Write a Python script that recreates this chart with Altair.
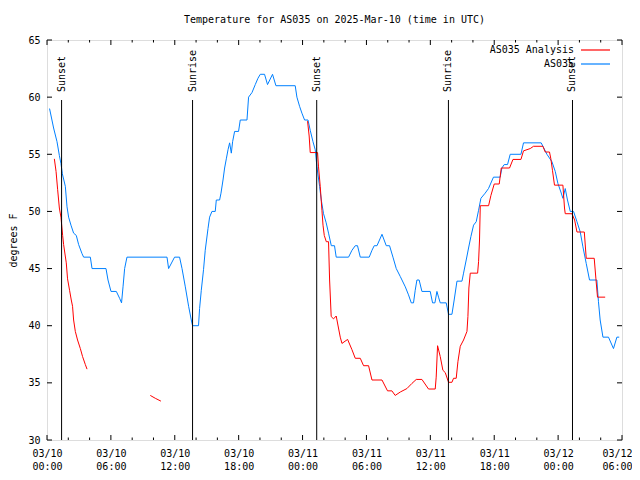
import altair as alt
import pandas as pd

FONT = "DejaVu Sans Mono"

series_names = ["AS035 Analysis", "AS035"]
series_colors = ["#ff0000", "#0080ff"]

# hours after 2025-03-10 00:00 UTC, temperature in F
obs_hours = [0.24, 0.62, 0.94, 1.16, 1.31, 1.44, 1.72, 1.88, 2.03, 2.25, 2.50, 2.75, 2.97, 3.29, 3.44,
             4.07, 4.23, 5.54, 5.73, 6.01, 6.51, 6.82, 7.00, 7.14, 7.29, 7.51, 11.27, 11.42, 11.98,
             12.45, 12.68, 12.99, 13.30, 13.55, 13.67, 14.23, 14.33, 14.49, 14.70, 14.86, 15.12,
             15.27, 15.49, 15.80, 15.90, 16.21, 16.34, 16.53, 16.68, 16.84, 17.00, 17.15, 17.31,
             17.43, 17.62, 17.99, 18.15, 18.78, 18.93, 19.25, 19.56, 19.81, 20.03, 20.43, 20.71,
             21.18, 21.50, 23.31, 23.47, 23.72, 23.94, 24.19, 24.51, 24.72, 24.98, 25.19, 25.35,
             25.60, 25.76, 25.97, 26.22, 26.44, 26.70, 27.00, 27.16, 28.32, 28.64, 28.95, 29.16,
             29.42, 30.26, 30.52, 30.73, 30.99, 31.46, 31.86, 32.17, 32.49, 32.80, 33.18, 33.65,
             33.95, 34.21, 34.42, 34.58, 34.74, 34.95, 35.21, 35.99, 36.21, 36.43, 36.62, 36.77,
             36.93, 37.49, 37.71, 38.03, 38.24, 38.50, 38.97, 39.12, 39.37, 39.59, 39.81, 40.06,
             40.31, 40.53, 40.75, 41.15, 41.46, 41.93, 42.56, 42.72, 42.94, 43.25, 43.50, 44.51,
             44.75, 46.41, 46.63, 46.95, 47.42, 47.73, 47.98, 48.26, 48.45, 48.67, 48.88, 49.14,
             49.45, 49.77, 50.08, 50.33, 50.64, 50.95, 51.64, 51.79, 51.95, 52.21, 52.73, 53.20,
             53.52, 53.74]
obs_temps = [59.0, 57.3, 56.1, 54.9, 54.2, 53.3, 52.2, 50.4, 49.5, 48.8, 48.1, 47.9, 47.1, 46.3, 46.0,
             46.0, 45.0, 45.0, 44.0, 43.0, 43.0, 42.4, 42.0, 43.4, 45.0, 46.0, 46.0, 45.0, 46.0,
             46.0, 45.0, 43.4, 41.7, 40.5, 40.0, 40.0, 41.5, 43.1, 44.9, 46.6, 48.5,
             49.5, 50.0, 50.0, 51.0, 51.0, 51.6, 52.75, 53.8, 54.6, 55.4, 56.0, 55.1,
             56.1, 57.0, 57.0, 58.0, 58.0, 60.0, 60.4, 61.1, 61.65, 62.0, 62.0, 61.1,
             62.0, 61.0, 61.0, 60.0, 59.2, 58.6, 58.0, 58.0, 57.1, 56.1, 55.4, 53.9,
             52.2, 51.0, 49.8, 49.0, 48.1, 47.0, 47.0, 46.0, 46.0, 46.6, 47.0, 47.0,
             46.0, 46.0, 46.6, 47.0, 47.0, 48.0, 47.0, 47.0, 46.0, 45.0, 44.3, 43.4,
             42.7, 42.0, 42.0, 43.1, 44.0, 44.0, 43.0, 43.0, 42.0, 42.0, 43.0, 42.5,
             42.0, 42.0, 41.0, 41.0, 42.25, 43.9, 43.9, 44.6, 45.75, 46.8, 47.8, 48.8,
             49.1, 50.1, 51.15, 51.6, 52.0, 53.0, 53.0, 53.8, 54.1, 54.1, 55.0, 55.0,
             56.0, 56.0, 55.6, 55.0, 54.35, 53.5, 52.45, 51.7, 51.15, 52.0, 51.0, 50.0,
             50.0, 49.1, 48.2, 46.9, 45.45, 44.0, 44.0, 42.1, 40.5, 39.0, 39.0, 38.0,
             39.0, 39.0]

ana_seg1_hours = [0.69, 0.85, 1.00, 1.16, 1.31, 1.47, 1.56, 1.81, 1.93, 2.12, 2.28, 2.40, 2.50,
                  2.66, 2.87, 3.13, 3.34, 3.60, 3.76]
ana_seg1_temps = [54.6, 53.5, 51.9, 50.3, 49.5, 47.9, 47.1, 45.5, 44.1, 43.1, 42.25, 41.7, 40.5,
                  39.5, 38.75, 38.0, 37.3, 36.6, 36.2]

ana_seg2_hours = [9.70, 10.17, 10.70]
ana_seg2_temps = [33.9, 33.65, 33.4]

ana_seg3_hours = [24.47, 24.62, 24.72, 25.41, 25.50, 25.66, 25.82, 25.92, 26.04, 26.23, 26.44,
                  26.54, 26.69, 26.91, 27.16, 27.32, 27.54, 27.70, 28.23, 28.64, 28.95, 29.42,
                  29.73, 30.20, 30.52, 31.46, 31.98, 32.39, 32.70, 33.18, 33.80, 34.27, 34.68,
                  35.21, 35.83, 36.46, 36.55, 36.68, 36.93, 37.18, 37.40, 37.71, 38.03, 38.18,
                  38.43, 38.59, 38.81, 39.12, 39.44, 39.53, 39.62, 39.75, 40.44, 40.53, 40.62,
                  40.69, 41.47, 41.69, 42.00, 42.47, 42.66, 43.44, 43.76, 44.51, 44.75, 45.38,
                  45.69, 46.57, 46.79, 47.19, 47.32, 47.47, 47.66, 48.45, 48.60, 48.67, 49.30,
                  49.55, 49.77, 50.46, 50.64, 51.39, 51.55, 51.70, 52.42]
ana_seg3_temps = [57.9, 56.6, 55.15, 55.15, 53.9, 52.2, 50.1, 48.8, 47.9, 47.35, 47.35,
                  44.0, 40.8, 40.6, 40.85, 40.06, 39.0, 38.45, 38.8, 37.9, 37.15, 37.15,
                  36.5, 36.5, 35.25, 35.25, 34.3, 34.3, 33.9, 34.2, 34.5, 34.95, 35.3,
                  35.3, 34.46, 34.46, 35.5, 38.25, 37.3, 36.1, 35.9, 35.05, 35.05, 35.4,
                  35.4, 36.85, 38.2, 38.75, 39.5, 40.8, 43.3, 44.6, 44.6, 45.6, 47.5,
                  50.5, 50.5, 51.4, 52.4, 52.4, 53.8, 53.8, 54.55, 54.55, 55.3, 55.5,
                  55.7, 55.7, 55.2, 55.2, 54.6, 53.6, 52.3, 52.3, 50.3, 49.8, 49.8,
                  49.25, 48.2, 48.2, 45.9, 45.9, 44.1, 42.5, 42.5]

event_hours = [1.37, 13.67, 25.33, 37.70, 49.35]
event_labels = ["Sunset", "Sunrise", "Sunset", "Sunrise", "Sunset"]

x_major = list(range(0, 55, 6))
x_minor = [h for h in range(0, 55, 2) if h % 6]
y_ticks = list(range(30, 66, 5))

rows = []
for h, v in zip(obs_hours, obs_temps):
    rows.append({"t": h, "T": v, "series": series_names[1], "seg": "obs"})
for k, (hs, vs) in enumerate([(ana_seg1_hours, ana_seg1_temps),
                              (ana_seg2_hours, ana_seg2_temps),
                              (ana_seg3_hours, ana_seg3_temps)]):
    for h, v in zip(hs, vs):
        rows.append({"t": h, "T": v, "series": series_names[0], "seg": f"ana{k}"})
df = pd.DataFrame(rows)

W, H = 575, 400
xs = alt.Scale(domain=[0, 54], nice=False, zero=False)
ys = alt.Scale(domain=[30, 65], nice=False, zero=False)
cs = alt.Scale(domain=series_names, range=series_colors)

label_expr = ("['03/' + (10 + floor(datum.value / 24)), "
              "(datum.value % 24 < 10 ? '0' : '') + (datum.value % 24) + ':00']")

x_axis = alt.Axis(values=x_major, labelExpr=label_expr, tickSize=0, domain=False, grid=False,
                  labelFlush=False, labelOverlap=False, labelPadding=8, labelLineHeight=13,
                  labelOffset={"condition": {"test": "datum.value >= 54", "value": -5}, "value": 0},
                  labelFont=FONT, labelFontSize=10, labelColor="black", title=None)
y_axis = alt.Axis(values=y_ticks, tickSize=0, domain=False, grid=False, labelFlush=False,
                  labelOverlap=False, labelPadding=7, labelFont=FONT, labelFontSize=10,
                  labelColor="black",
                  title="degrees F", titleFont=FONT, titleFontSize=10, titleFontWeight="normal",
                  titleColor="black", titleX=-34, titleY=200, titleAngle=270,
                  titleAlign="center", titleBaseline="middle")


def X(field="t"):
    return alt.X(f"{field}:Q", scale=xs, axis=x_axis)


def Y(field="T"):
    return alt.Y(f"{field}:Q", scale=ys, axis=y_axis)


lines = alt.Chart(df).mark_line(strokeWidth=1, interpolate="linear").encode(
    x=X(), y=Y(),
    color=alt.Color("series:N", scale=cs, legend=None),
    detail="seg:N",
)

ev = pd.DataFrame({"t": event_hours, "label": event_labels})
ev_rules = alt.Chart(ev).mark_rule(color="black", strokeWidth=1).encode(
    x=X(), y=alt.value(60), y2=alt.value(H))
ev_text = alt.Chart(ev).mark_text(angle=270, align="left", baseline="middle", font=FONT,
                                  fontSize=10, color="black").encode(
    x=X(), y=alt.value(52), text="label:N")

yt = pd.DataFrame({"T": y_ticks})
ytick_l = alt.Chart(yt).mark_rule(color="black", strokeWidth=1).encode(
    y=Y(), x=alt.value(0), x2=alt.value(5))
ytick_r = alt.Chart(yt).mark_rule(color="black", strokeWidth=1).encode(
    y=Y(), x=alt.value(W - 5), x2=alt.value(W))

xmaj = pd.DataFrame({"t": x_major})
xmin = pd.DataFrame({"t": x_minor})
tick_layers = []
for d, ln in [(xmaj, 5), (xmin, 2.5)]:
    tick_layers.append(alt.Chart(d).mark_rule(color="black", strokeWidth=1).encode(
        x=X(), y=alt.value(H), y2=alt.value(H - ln)))
    tick_layers.append(alt.Chart(d).mark_rule(color="black", strokeWidth=1).encode(
        x=X(), y=alt.value(0), y2=alt.value(ln)))

legend_df = pd.DataFrame({"series": series_names, "row": list(range(len(series_names)))})
legend_layers = []
for i, name in enumerate(series_names):
    ld = legend_df[legend_df["row"] == i]
    ymid = 10 + 14 * i
    legend_layers.append(alt.Chart(ld).mark_text(align="right", baseline="middle", font=FONT,
                                                 fontSize=10, color="black").encode(
        x=alt.value(527), y=alt.value(ymid), text="series:N"))
    legend_layers.append(alt.Chart(ld).mark_rule(strokeWidth=1.2).encode(
        x=alt.value(534), x2=alt.value(563), y=alt.value(ymid),
        color=alt.Color("series:N", scale=cs, legend=None)))

chart = alt.layer(lines, ev_rules, ev_text, ytick_l, ytick_r, *tick_layers, *legend_layers).properties(
    width=W, height=H,
    title=alt.TitleParams("Temperature for AS035 on 2025-Mar-10 (time in UTC)", font=FONT,
                          fontSize=10, fontWeight="normal", color="black", anchor="middle",
                          baseline="bottom", offset=0),
    padding={"left": 39, "top": 32, "right": 10, "bottom": 32},
    autosize=alt.AutoSizeParams(type="none"),
).configure_view(stroke="black", strokeWidth=1).configure(background="white")

chart.save("out.html", embed_options={"renderer": "svg", "actions": False})
